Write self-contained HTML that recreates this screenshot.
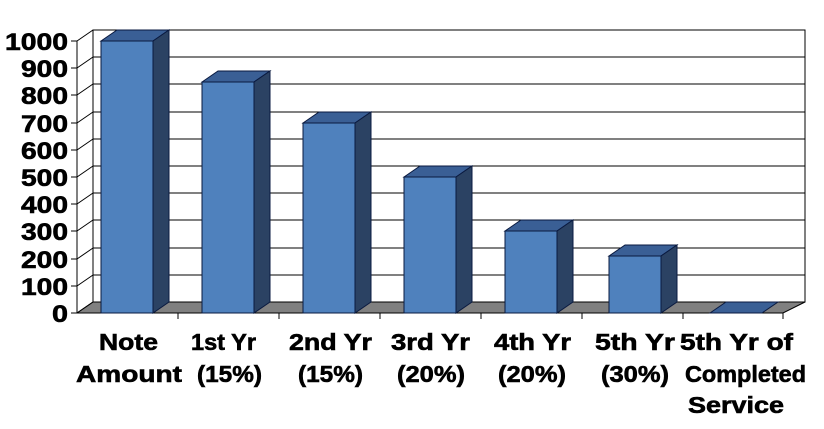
<!DOCTYPE html><html><head><style>body{margin:0;background:#fff}svg{display:block}text{font-family:"Liberation Sans",Arial,sans-serif;font-weight:bold;fill:#000;stroke:#000;stroke-width:0.6}</style></head><body>
<svg width="824" height="429" viewBox="0 0 824 429">
<polygon points="93,30 805,30 805,302 93,302" fill="#fff" stroke="#000" stroke-width="1"/>
<g stroke="#000" stroke-width="1">
<line x1="93" y1="57" x2="805" y2="57"/><line x1="93" y1="84" x2="805" y2="84"/><line x1="93" y1="112" x2="805" y2="112"/><line x1="93" y1="139" x2="805" y2="139"/><line x1="93" y1="166" x2="805" y2="166"/><line x1="93" y1="193" x2="805" y2="193"/><line x1="93" y1="220" x2="805" y2="220"/><line x1="93" y1="248" x2="805" y2="248"/><line x1="93" y1="275" x2="805" y2="275"/>
</g>
<polygon points="77,313 783,313 805,302 93,302" fill="#808080" stroke="#000" stroke-width="1"/>
<g stroke="#000" stroke-width="1" fill="none">
<line x1="77" y1="41" x2="77" y2="313"/>
<line x1="77" y1="313" x2="783" y2="313"/>
<line x1="77" y1="41" x2="93" y2="30"/><line x1="77" y1="68" x2="93" y2="57"/><line x1="77" y1="95" x2="93" y2="84"/><line x1="77" y1="123" x2="93" y2="112"/><line x1="77" y1="150" x2="93" y2="139"/><line x1="77" y1="177" x2="93" y2="166"/><line x1="77" y1="204" x2="93" y2="193"/><line x1="77" y1="231" x2="93" y2="220"/><line x1="77" y1="259" x2="93" y2="248"/><line x1="77" y1="286" x2="93" y2="275"/><line x1="77" y1="313" x2="93" y2="302"/>
<line x1="71" y1="41" x2="77" y2="41"/><line x1="71" y1="68" x2="77" y2="68"/><line x1="71" y1="95" x2="77" y2="95"/><line x1="71" y1="123" x2="77" y2="123"/><line x1="71" y1="150" x2="77" y2="150"/><line x1="71" y1="177" x2="77" y2="177"/><line x1="71" y1="204" x2="77" y2="204"/><line x1="71" y1="231" x2="77" y2="231"/><line x1="71" y1="259" x2="77" y2="259"/><line x1="71" y1="286" x2="77" y2="286"/><line x1="71" y1="313" x2="77" y2="313"/>
<line x1="178" y1="313" x2="178" y2="319"/><line x1="279" y1="313" x2="279" y2="319"/><line x1="380" y1="313" x2="380" y2="319"/><line x1="481" y1="313" x2="481" y2="319"/><line x1="582" y1="313" x2="582" y2="319"/><line x1="683" y1="313" x2="683" y2="319"/><line x1="783" y1="313" x2="783" y2="319"/>
</g>
<g stroke="#0a1a40" stroke-width="1">
<polygon points="101,41 117,30 169,30 153,41" fill="#3a5f95"/><polygon points="153,41 169,30 169,302 153,313" fill="#2b4263"/><rect x="101" y="41" width="52" height="272" fill="#4f81bd"/>
<polygon points="202,82 218,71 270,71 254,82" fill="#3a5f95"/><polygon points="254,82 270,71 270,302 254,313" fill="#2b4263"/><rect x="202" y="82" width="52" height="231" fill="#4f81bd"/>
<polygon points="303,123 319,112 371,112 355,123" fill="#3a5f95"/><polygon points="355,123 371,112 371,302 355,313" fill="#2b4263"/><rect x="303" y="123" width="52" height="190" fill="#4f81bd"/>
<polygon points="404,177 420,166 472,166 456,177" fill="#3a5f95"/><polygon points="456,177 472,166 472,302 456,313" fill="#2b4263"/><rect x="404" y="177" width="52" height="136" fill="#4f81bd"/>
<polygon points="505,231 521,220 573,220 557,231" fill="#3a5f95"/><polygon points="557,231 573,220 573,302 557,313" fill="#2b4263"/><rect x="505" y="231" width="52" height="82" fill="#4f81bd"/>
<polygon points="609,256 625,245 677,245 661,256" fill="#3a5f95"/><polygon points="661,256 677,245 677,302 661,313" fill="#2b4263"/><rect x="609" y="256" width="52" height="57" fill="#4f81bd"/>
<polygon points="710,313 726,302 778,302 762,313" fill="#3a5f95"/>
</g>
<g font-size="24" text-anchor="end">
<text x="68" y="50" textLength="63" lengthAdjust="spacingAndGlyphs">1000</text><text x="68" y="77" textLength="47" lengthAdjust="spacingAndGlyphs">900</text><text x="68" y="104" textLength="47" lengthAdjust="spacingAndGlyphs">800</text><text x="68" y="132" textLength="47" lengthAdjust="spacingAndGlyphs">700</text><text x="68" y="159" textLength="47" lengthAdjust="spacingAndGlyphs">600</text><text x="68" y="186" textLength="47" lengthAdjust="spacingAndGlyphs">500</text><text x="68" y="213" textLength="47" lengthAdjust="spacingAndGlyphs">400</text><text x="68" y="240" textLength="47" lengthAdjust="spacingAndGlyphs">300</text><text x="68" y="268" textLength="47" lengthAdjust="spacingAndGlyphs">200</text><text x="68" y="295" textLength="47" lengthAdjust="spacingAndGlyphs">100</text><text x="68" y="322" textLength="16" lengthAdjust="spacingAndGlyphs">0</text>
</g>
<g font-size="23" lengthAdjust="spacingAndGlyphs">
<text x="99" y="350" textLength="59" lengthAdjust="spacingAndGlyphs">Note</text><text x="76" y="382" textLength="106" lengthAdjust="spacingAndGlyphs">Amount</text>
<text x="191" y="350" textLength="65" lengthAdjust="spacingAndGlyphs">1st Yr</text><text x="197" y="382" textLength="65" lengthAdjust="spacingAndGlyphs">(15%)</text>
<text x="289" y="350" textLength="83" lengthAdjust="spacingAndGlyphs">2nd Yr</text><text x="298" y="382" textLength="65" lengthAdjust="spacingAndGlyphs">(15%)</text>
<text x="391" y="350" textLength="79" lengthAdjust="spacingAndGlyphs">3rd Yr</text><text x="397" y="382" textLength="68" lengthAdjust="spacingAndGlyphs">(20%)</text>
<text x="494" y="350" textLength="77" lengthAdjust="spacingAndGlyphs">4th Yr</text><text x="498" y="382" textLength="68" lengthAdjust="spacingAndGlyphs">(20%)</text>
<text x="595" y="350" textLength="80" lengthAdjust="spacingAndGlyphs">5th Yr</text><text x="601" y="382" textLength="68" lengthAdjust="spacingAndGlyphs">(30%)</text>
<text x="680" y="350" textLength="113" lengthAdjust="spacingAndGlyphs">5th Yr of</text><text x="685" y="382" textLength="121" lengthAdjust="spacingAndGlyphs">Completed</text><text x="688" y="413" textLength="96" lengthAdjust="spacingAndGlyphs">Service</text>
</g>
</svg>
</body></html>
